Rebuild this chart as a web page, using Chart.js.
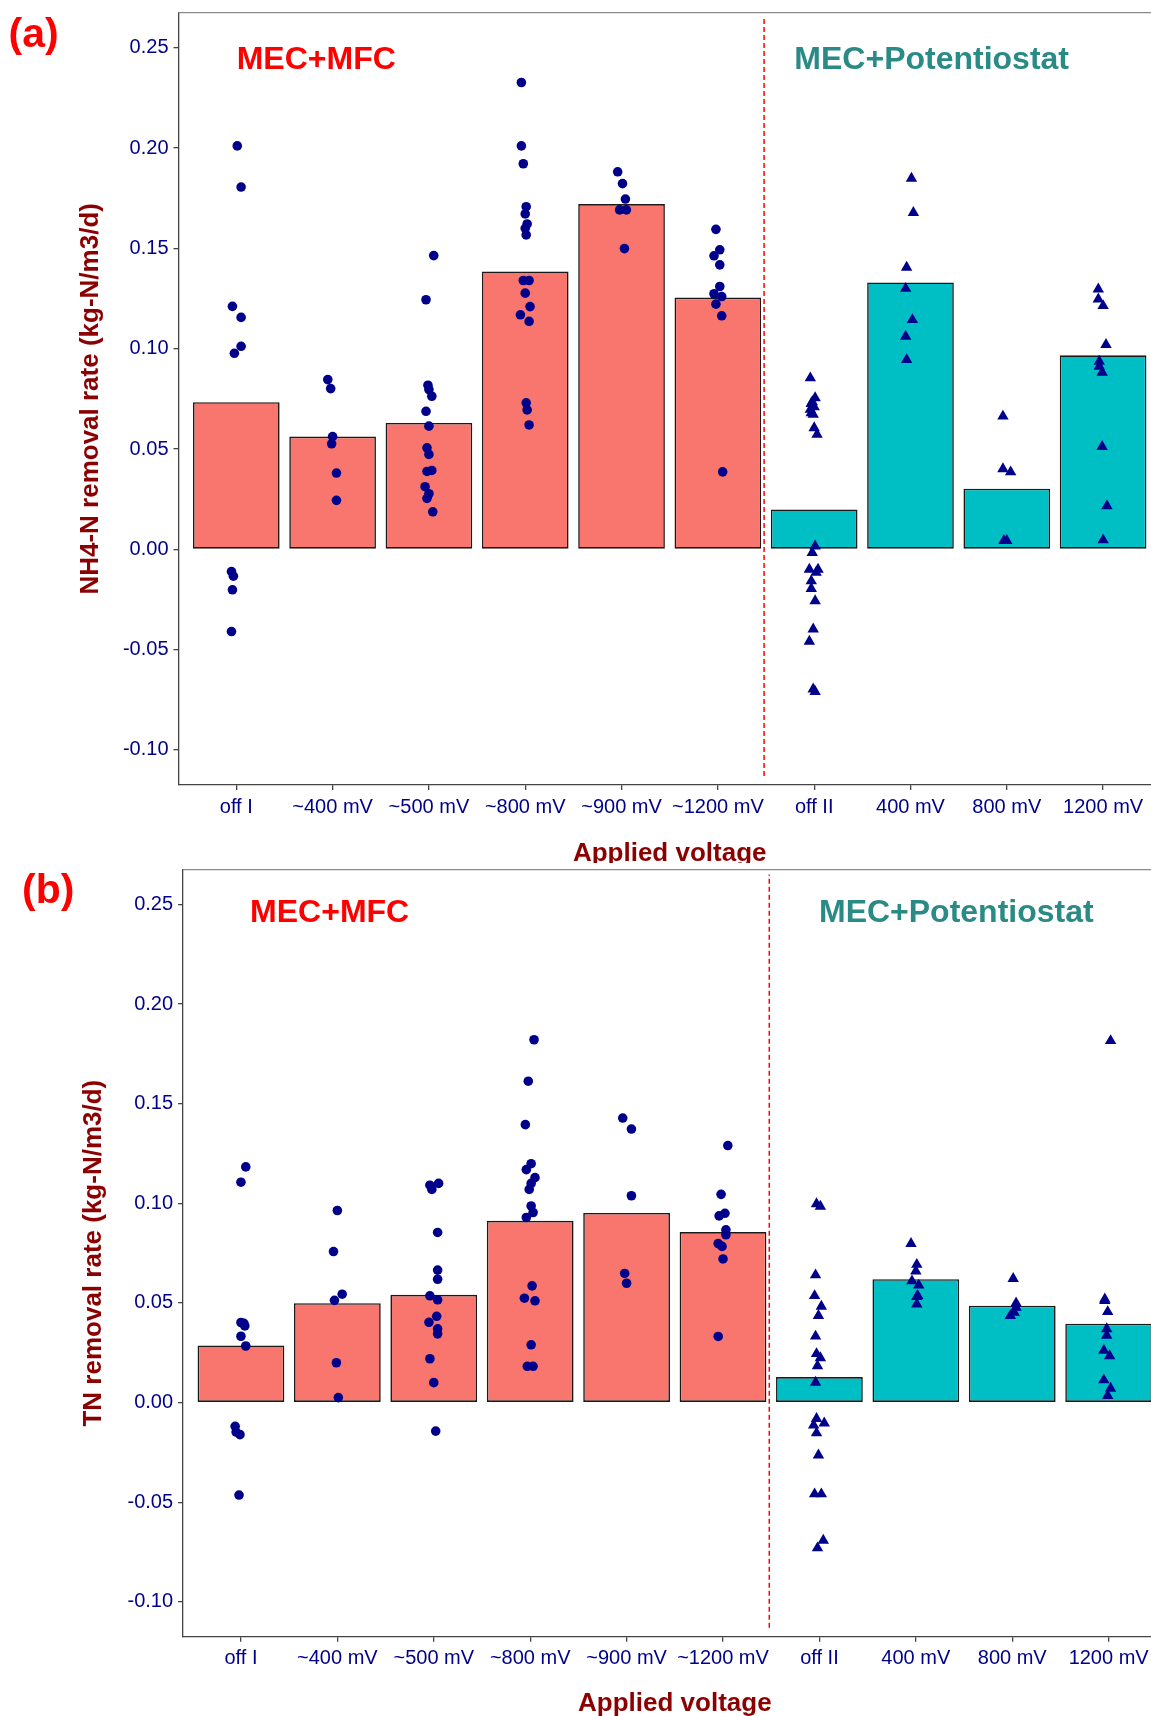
<!DOCTYPE html>
<html>
<head>
<meta charset="utf-8">
<script src="https://cdn.jsdelivr.net/npm/chart.js@4.4.0/dist/chart.umd.min.js"></script>
<style>
  html, body { margin: 0; padding: 0; background: #fff; overflow: hidden; width: 1151px; height: 1716px; }
  canvas { position: absolute; left: 0; }
  #chartA { top: 0; }
  #chartB { top: 863px; background: #fff; }
</style>
</head>
<body>
<canvas id="chartA" width="1175" height="880" style="width:1175px;height:880px"></canvas>
<canvas id="chartB" width="1175" height="857" style="width:1175px;height:857px"></canvas>
<script>
const categories = ["off I", "~400 mV", "~500 mV", "~800 mV", "~900 mV", "~1200 mV", "off II", "400 mV", "800 mV", "1200 mV"]
const yTicks = [-0.10, -0.05, 0.00, 0.05, 0.10, 0.15, 0.20, 0.25]

// bar heights (group means)
const nh4Means = [0.0733, 0.0562, 0.0630, 0.1385, 0.1721, 0.1255, 0.0199, 0.1330, 0.0302, 0.0967]
const tnMeans = [0.0287, 0.0499, 0.0541, 0.0912, 0.0952, 0.0856, 0.0128, 0.0619, 0.0486, 0.0396]

// single measurements, one list per category
const nh4Points = [
  [0.2011, 0.1806, 0.1211, 0.1156, 0.1012, 0.0977, -0.0111, -0.0134, -0.0202, -0.0410],
  [0.0846, 0.0801, 0.0562, 0.0526, 0.0380, 0.0244],
  [0.1464, 0.1244, 0.0818, 0.0796, 0.0763, 0.0688, 0.0614, 0.0506, 0.0473, 0.0393, 0.0388, 0.0312, 0.0277, 0.0254, 0.0187],
  [0.2327, 0.2011, 0.1922, 0.1708, 0.1672, 0.1622, 0.1600, 0.1567, 0.1340, 0.1340, 0.1277, 0.1210, 0.1169, 0.1136, 0.0730, 0.0695, 0.0620],
  [0.1882, 0.1823, 0.1746, 0.1692, 0.1692, 0.1499],
  [0.1595, 0.1493, 0.1463, 0.1418, 0.1310, 0.1274, 0.1260, 0.1222, 0.1164, 0.0386],
  [0.0854, 0.0755, 0.0735, 0.0726, 0.0710, 0.0697, 0.0680, 0.0672, 0.0605, 0.0572, 0.0016, -0.0017, -0.0100, -0.0100, -0.0116, -0.0158, -0.0196, -0.0257, -0.0398, -0.0459, -0.0697, -0.0710],
  [0.1849, 0.1678, 0.1405, 0.1300, 0.1144, 0.1061, 0.0945],
  [0.0663, 0.0401, 0.0385, 0.0043, 0.0043],
  [0.1297, 0.1247, 0.1214, 0.1020, 0.0937, 0.0912, 0.0882, 0.0512, 0.0216, 0.0046]
]
const nh4Jitter = [
  [0.01, 0.05, -0.04, 0.05, 0.05, -0.02, -0.05, -0.03, -0.04, -0.05],
  [-0.05, -0.02, 0, -0.01, 0.04, 0.04],
  [0.05, -0.03, -0.01, 0, 0.03, -0.03, 0, -0.02, 0, 0.03, -0.02, -0.04, 0, -0.02, 0.04],
  [-0.04, -0.04, -0.02, 0.01, 0, 0.02, 0, 0.01, -0.02, 0.04, 0, 0.05, -0.05, 0.04, 0.01, 0.02, 0.04],
  [-0.04, 0.01, 0.04, -0.02, 0.05, 0.03],
  [-0.02, 0.02, -0.04, 0.02, 0.02, -0.04, 0.04, -0.02, 0.04, 0.05],
  [-0.04, 0.01, -0.02, -0.03, 0, -0.04, -0.03, -0.01, 0, 0.03, 0.01, -0.02, -0.05, 0.04, 0.02, -0.03, -0.03, 0.01, -0.01, -0.05, -0.01, 0.01],
  [0.01, 0.03, -0.04, -0.05, 0.02, -0.05, -0.04],
  [-0.04, -0.04, 0.04, -0.03, 0],
  [-0.05, -0.05, 0, 0.03, -0.04, -0.04, -0.01, -0.01, 0.04, 0]
]

const tnPoints = [
  [0.1183, 0.1106, 0.0402, 0.0398, 0.0385, 0.0333, 0.0284, -0.0119, -0.0148, -0.0161, -0.0464],
  [0.0964, 0.0758, 0.0544, 0.0513, 0.0200, 0.0025],
  [0.1100, 0.1091, 0.1070, 0.0854, 0.0665, 0.0619, 0.0536, 0.0516, 0.0433, 0.0403, 0.0370, 0.0345, 0.0220, 0.0100, -0.0143],
  [0.1821, 0.1613, 0.1395, 0.1199, 0.1169, 0.1129, 0.1100, 0.1070, 0.0987, 0.0954, 0.0929, 0.0586, 0.0524, 0.0511, 0.0290, 0.0182, 0.0182],
  [0.1428, 0.1373, 0.1038, 0.0648, 0.0599],
  [0.1290, 0.1045, 0.0950, 0.0937, 0.0867, 0.0842, 0.0798, 0.0784, 0.0721, 0.0332],
  [0.0997, 0.0985, 0.0640, 0.0536, 0.0483, 0.0436, 0.0333, 0.0245, 0.0224, 0.0184, 0.0101, -0.0081, -0.0103, -0.0114, -0.0153, -0.0264, -0.0459, -0.0459, -0.0692, -0.0730],
  [0.0798, 0.0693, 0.0660, 0.0610, 0.0589, 0.0536, 0.0532, 0.0494],
  [0.0622, 0.0499, 0.0478, 0.0453, 0.0436],
  [0.1816, 0.0519, 0.0511, 0.0456, 0.0370, 0.0337, 0.0262, 0.0234, 0.0113, 0.0071, 0.0035]
]
const tnJitter = [
  [0.05, 0, 0, 0.03, 0.04, 0, 0.05, -0.06, -0.05, -0.01, -0.02],
  [0, -0.04, 0.05, -0.03, -0.01, 0.01],
  [0.05, -0.04, -0.02, 0.04, 0.04, 0.04, -0.04, 0.04, 0.03, -0.05, 0.04, 0.04, -0.04, 0, 0.02],
  [0.04, -0.02, -0.05, 0.01, -0.04, 0.05, 0.01, -0.01, 0.01, 0.03, -0.04, 0.02, -0.06, 0.05, 0.01, -0.03, 0.03],
  [-0.04, 0.05, 0.05, -0.02, 0],
  [0.05, -0.02, 0.02, -0.04, 0.03, 0.03, -0.05, -0.01, 0, -0.05],
  [-0.03, 0.01, -0.04, -0.05, 0.02, -0.01, -0.04, -0.03, 0.01, -0.02, -0.04, -0.03, 0.05, -0.06, -0.03, -0.01, -0.05, 0.02, 0.04, -0.02],
  [-0.05, 0.01, 0, -0.04, 0.03, 0.02, 0.01, 0.01],
  [0.01, 0.04, 0.04, 0.02, -0.02],
  [0.02, -0.04, -0.04, -0.01, -0.02, -0.02, -0.05, 0.01, -0.05, 0.02, -0.01]
]

const mfcCount = 6          // first six categories are MEC+MFC, the rest MEC+Potentiostat
const dividerAt = 5.48
const dividerSpan = [-0.113, 0.265]

const font = '"Liberation Sans", Arial, sans-serif'
const salmon = '#F8766D'
const teal = '#00BFC4'
const navy = '#00008B'
const darkRed = '#8B0000'

const frame = {
  id: 'frame',
  afterDraw(chart, args, opts) {
    const { ctx, chartArea: a, scales: { x, y } } = chart
    ctx.save()
    ctx.strokeStyle = '#8a8a8a'
    ctx.lineWidth = 1.2
    ctx.beginPath()
    ctx.moveTo(a.left, a.top)
    ctx.lineTo(a.right, a.top)
    ctx.stroke()

    ctx.font = 'bold 32px ' + font
    ctx.textAlign = 'center'
    ctx.textBaseline = 'middle'
    opts.groups.forEach(g => {
      ctx.fillStyle = g.color
      ctx.fillText(g.text, x.getPixelForValue(g.x), y.getPixelForValue(g.y))
    })

    ctx.font = 'bold 41px ' + font
    ctx.fillStyle = '#FF0000'
    ctx.textAlign = 'left'
    ctx.textBaseline = 'alphabetic'
    ctx.fillText(opts.panel, opts.panelX, opts.panelY)
    ctx.restore()
  }
}

function makeChart(id, means, points, jitter, p) {
  const circles = [], triangles = []
  points.forEach((list, i) => {
    list.forEach((v, k) => {
      const pt = { x: i + jitter[i][k], y: v }
      if (i < mfcCount) circles.push(pt)
      else triangles.push(pt)
    })
  })

  return new Chart(document.getElementById(id), {
    type: 'bar',
    data: {
      datasets: [
        {
          type: 'scatter',
          data: circles,
          pointStyle: 'circle',
          pointRadius: 4.8,
          backgroundColor: navy,
          borderWidth: 0,
          order: 1
        },
        {
          type: 'scatter',
          data: triangles,
          pointStyle: 'triangle',
          pointRadius: 6.6,
          backgroundColor: navy,
          borderWidth: 0,
          order: 1
        },
        {
          type: 'line',
          data: dividerSpan.map(v => ({ x: dividerAt, y: v })),
          borderColor: '#FF0000',
          borderWidth: 1.5,
          borderDash: [5, 3],
          pointRadius: 0,
          fill: false,
          order: 2
        },
        {
          type: 'bar',
          data: means.map((m, i) => ({ x: i, y: m })),
          backgroundColor: means.map((m, i) => i < mfcCount ? salmon : teal),
          borderColor: '#1a1a1a',
          borderWidth: 1.6,
          borderSkipped: false,
          barPercentage: 0.9,
          categoryPercentage: 1,
          order: 3
        }
      ]
    },
    options: {
      responsive: false,
      animation: false,
      events: [],
      layout: { padding: { left: 0, top: p.top, right: p.right, bottom: 0 } },
      plugins: {
        legend: { display: false },
        tooltip: { enabled: false },
        frame: { groups: p.groups, panel: p.panel, panelX: p.panelX, panelY: p.panelY }
      },
      scales: {
        x: {
          type: 'linear',
          min: -0.6,
          max: 9.6,
          offset: false,
          afterBuildTicks: s => { s.ticks = categories.map((c, i) => ({ value: i })) },
          afterFit: s => { s.height = p.xAxisH; s.paddingLeft = 0; s.paddingRight = 0 },
          ticks: {
            callback: v => categories[v],
            color: navy,
            font: { family: font, size: 20 },
            padding: 5,
            autoSkip: false,
            maxRotation: 0
          },
          grid: { offset: false, drawOnChartArea: false, tickLength: 5, color: '#444', lineWidth: 1.3 },
          border: { color: '#444', width: 1.3 },
          title: {
            display: true,
            text: 'Applied voltage',
            color: darkRed,
            font: { family: font, size: 26, weight: 'bold', lineHeight: 1.2 },
            padding: { top: 0, bottom: p.xTitlePad }
          }
        },
        y: {
          min: -0.1175,
          max: 0.2675,
          afterBuildTicks: s => { s.ticks = yTicks.map(v => ({ value: v })) },
          afterFit: s => { s.width = p.yAxisW; s.paddingTop = 0; s.paddingBottom = 0 },
          ticks: {
            callback: v => v.toFixed(2),
            color: navy,
            font: { family: font, size: 20 },
            padding: 5
          },
          grid: { drawOnChartArea: false, tickLength: 5, color: '#444', lineWidth: 1.3 },
          border: { color: '#444', width: 1.3 },
          title: {
            display: true,
            text: p.yTitle,
            color: darkRed,
            font: { family: font, size: 26, weight: 'bold', lineHeight: 1.2 },
            padding: { top: p.yTitlePad, bottom: 0 }
          }
        }
      }
    },
    plugins: [frame]
  })
}

makeChart('chartA', nh4Means, nh4Points, nh4Jitter, {
  top: 12.7, right: 14.1, xAxisH: 95, yAxisW: 178.5,
  xTitlePad: 11, yTitlePad: 75,
  yTitle: 'NH4-N removal rate (kg-N/m3/d)',
  panel: '(a)', panelX: 8.5, panelY: 46.6,
  groups: [
    { text: 'MEC+MFC', x: 0.83, y: 0.244, color: '#FF0000' },
    { text: 'MEC+Potentiostat', x: 7.22, y: 0.244, color: '#2A8A86' }
  ]
})

makeChart('chartB', tnMeans, tnPoints, tnJitter, {
  top: 1, right: 8.5, xAxisH: 83.3, yAxisW: 183.1,
  xTitlePad: 0.9, yTitlePad: 78,
  yTitle: 'TN removal rate (kg-N/m3/d)',
  panel: '(b)', panelX: 22, panelY: 40.3,
  groups: [
    { text: 'MEC+MFC', x: 0.92, y: 0.2457, color: '#FF0000' },
    { text: 'MEC+Potentiostat', x: 7.42, y: 0.2457, color: '#2A8A86' }
  ]
})
</script>
</body>
</html>
